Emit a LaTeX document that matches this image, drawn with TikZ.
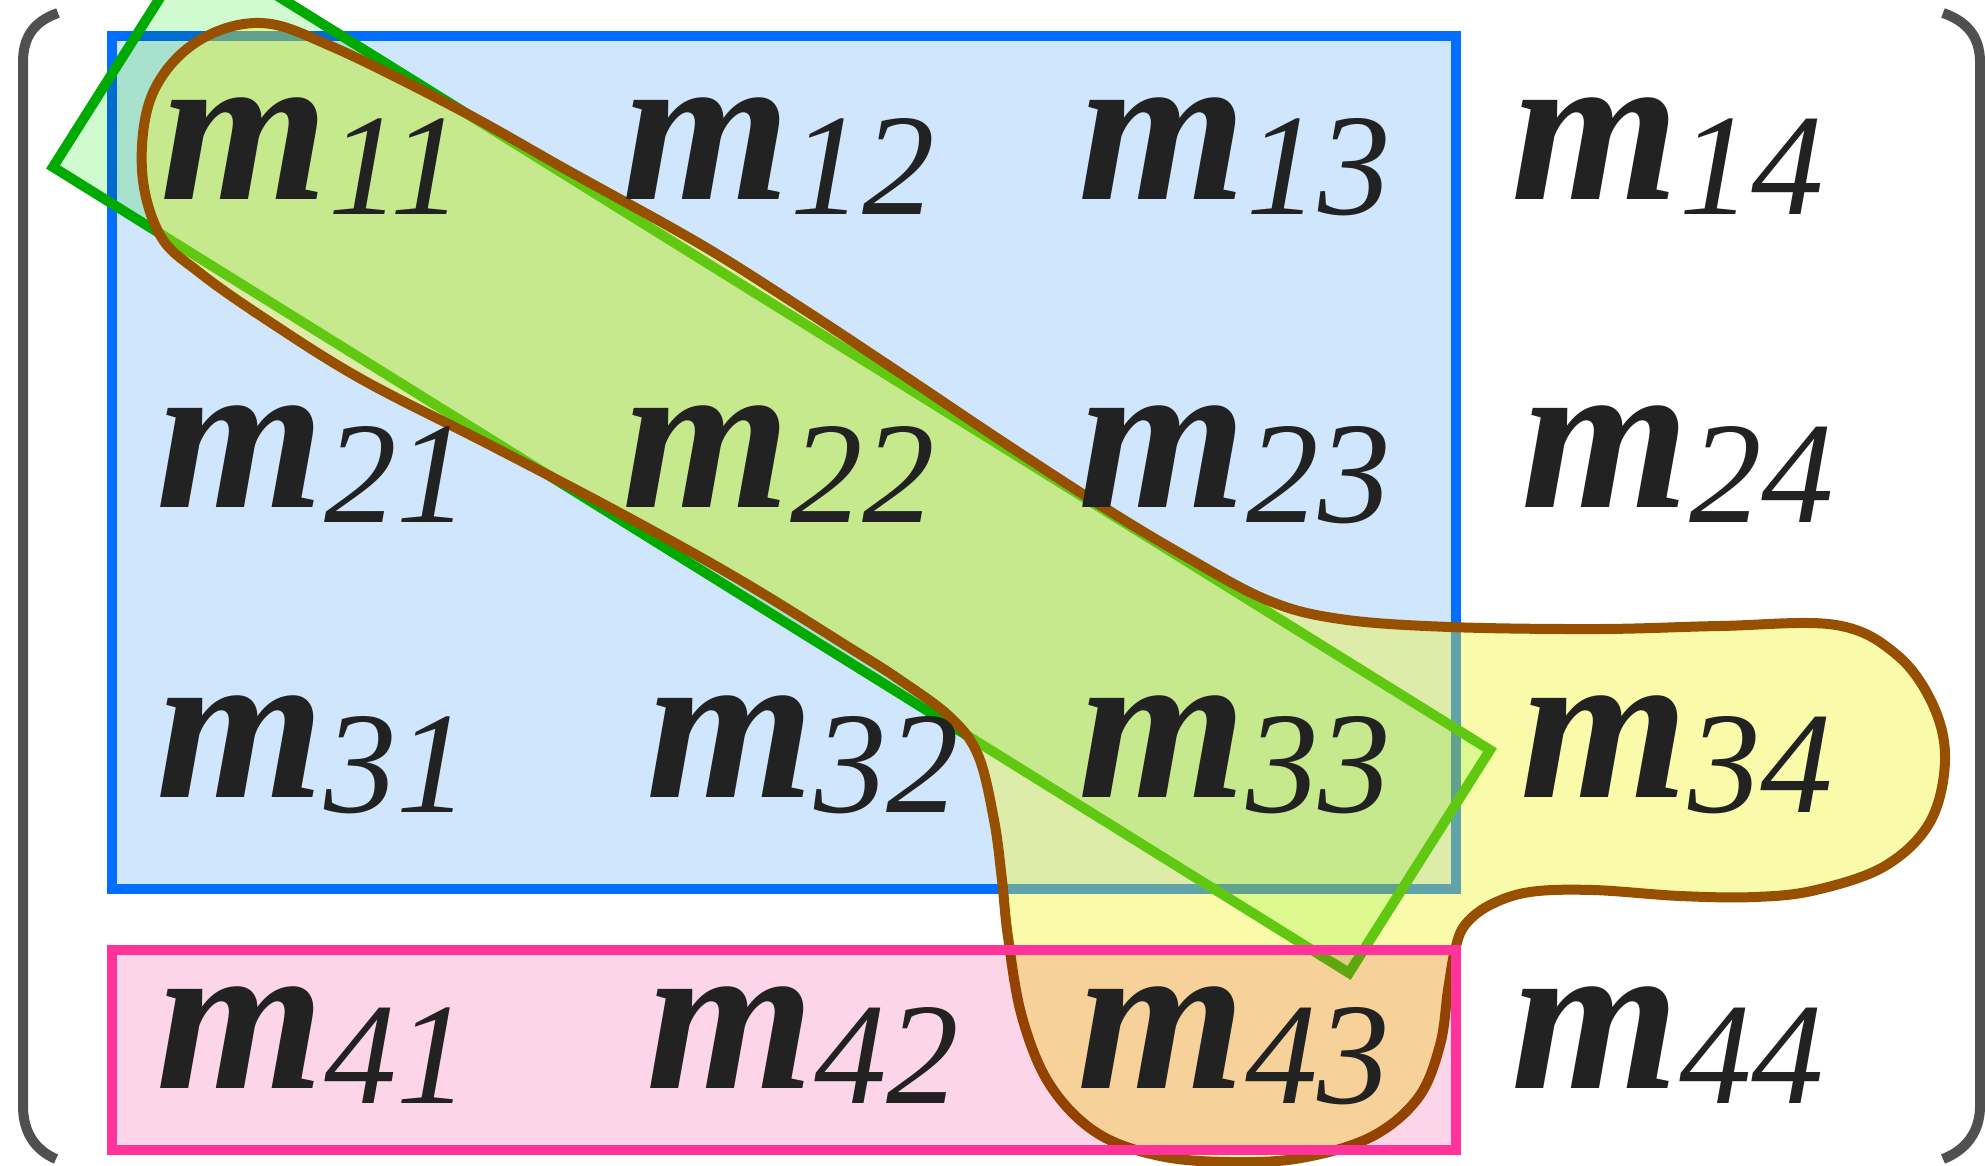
\documentclass[tikz,border=0pt]{standalone}
\usepackage{fontspec}
\setmainfont{Liberation Serif}
\definecolor{bluefill}{RGB}{207,230,252}
\definecolor{bluestroke}{RGB}{0,110,255}
\definecolor{greenfill}{RGB}{208,250,208}
\definecolor{greenstroke}{RGB}{0,170,0}
\definecolor{blobfill}{RGB}{242,245,43}
\definecolor{blobstroke}{RGB}{150,80,0}
\definecolor{pinkfill}{RGB}{253,213,232}
\definecolor{pinkstroke}{RGB}{255,51,153}
\definecolor{brk}{RGB}{80,80,80}
\definecolor{ink}{RGB}{34,34,34}
\newcommand\mentry[1]{{\bfseries\itshape m}\raisebox{-7.5pt}{\fontsize{72.5}{72.5}\selectfont\itshape #1}}
\newcommand\blobpts{(260,23) (333,47) (460,110) (567,170) (700,244) (800,307) (900,373) (1000,440) (1100,505) (1183,555) (1267,600) (1340,619) (1450,627) (1600,629) (1720,626) (1836,625) (1897,655) (1933,705) (1945,760) (1930,822) (1885,866) (1816,890) (1755,897) (1680,896) (1593,890) (1530,892) (1490,905) (1465,925) (1455,950) (1448,990) (1440,1045) (1418,1098) (1371,1137) (1301,1158) (1231,1162) (1160,1156) (1097,1133) (1050,1085) (1022,1017) (1008,937) (1002,880) (994,820) (978,755) (950,717) (900,680) (850,648) (740,580) (620,513) (490,445) (363,380) (270,322) (200,273) (160,235) (142,170) (152,95) (195,43)}
\begin{document}
\begin{tikzpicture}[x=0.5pt,y=-0.5pt,
  mtext/.style={anchor=base west,inner sep=0pt,text=ink,font=\fontsize{108}{108}\selectfont},
  brack/.style={draw=brk,line width=5pt,line cap=butt},
  shapeline/.style={line width=5pt,line join=miter}]
\useasboundingbox (0,0) rectangle (1985,1166);
\clip (0,0) rectangle (1985,1166);
\fill[white] (0,0) rectangle (1985,1166);
% brackets
\draw[brack] (58,13) .. controls (35,21) and (23,36) .. (23,62) -- (23,1106) .. controls (23,1132) and (35,1150) .. (56,1159);
\draw[brack] (1943,13) .. controls (1966,21) and (1980,36) .. (1980,62) -- (1980,1106) .. controls (1980,1132) and (1966,1150) .. (1943,1159);
% blue rectangle
\node[draw=bluestroke,fill=bluefill,line width=5pt,minimum width=672pt,minimum height=426.5pt,inner sep=0pt,anchor=north west] (blue) at (107,31) {};
% green rotated rectangle
\coordinate (gL) at (53,167);
\coordinate (gT) at (194,-56);
\coordinate (gR) at (1490,750);
\coordinate (gB) at (1349,973);
\fill[greenfill,blend mode=multiply] (gL) -- (gT) -- (gR) -- (gB) -- cycle;
\draw[greenstroke,shapeline] (gL) -- (gT) -- (gR) -- (gB) -- cycle;
% blob
\path[fill=blobfill,fill opacity=0.4] plot[smooth cycle,tension=0.6] coordinates {\blobpts};
\draw[blobstroke,line width=5pt] plot[smooth cycle,tension=0.6] coordinates {\blobpts};
% pink rectangle
\fill[pinkfill,blend mode=multiply] (107,945) rectangle (1451,1145);
\node[draw=pinkstroke,line width=5pt,minimum width=672pt,minimum height=100pt,inner sep=0pt,anchor=north west] (pink) at (107,945) {};
% entries
\node[mtext] (m11) at (160,200) {\mentry{11}};
\node[mtext] (m12) at (622,200) {\mentry{12}};
\node[mtext] (m13) at (1078,200) {\mentry{13}};
\node[mtext] (m14) at (1511,200) {\mentry{14}};
\node[mtext] (m21) at (156,507) {\mentry{21}};
\node[mtext] (m22) at (622,507) {\mentry{22}};
\node[mtext] (m23) at (1078,507) {\mentry{23}};
\node[mtext] (m24) at (1521,507) {\mentry{24}};
\node[mtext] (m31) at (156,797) {\mentry{31}};
\node[mtext] (m32) at (646,797) {\mentry{32}};
\node[mtext] (m33) at (1078,797) {\mentry{33}};
\node[mtext] (m34) at (1520,797) {\mentry{34}};
\node[mtext] (m41) at (156,1088) {\mentry{41}};
\node[mtext] (m42) at (646,1088) {\mentry{42}};
\node[mtext] (m43) at (1077,1088) {\mentry{43}};
\node[mtext] (m44) at (1511,1088) {\mentry{44}};
\end{tikzpicture}
\end{document}
